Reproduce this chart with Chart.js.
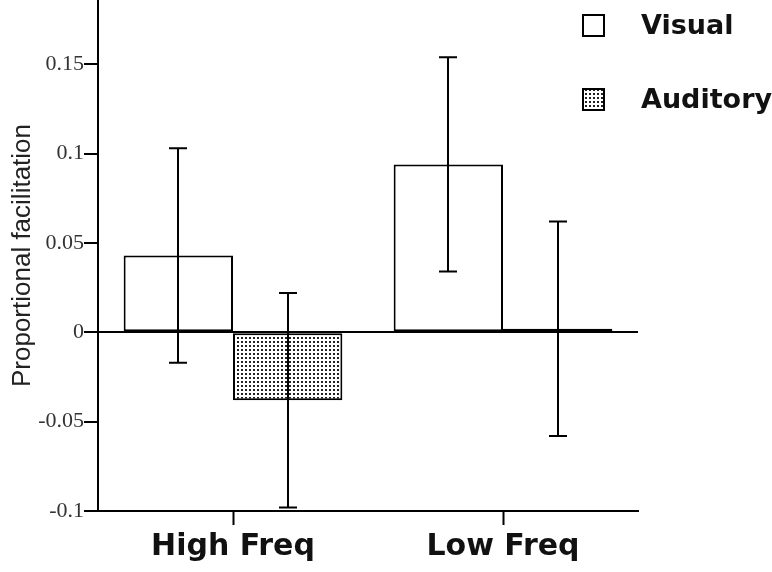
<!DOCTYPE html>
<html lang="en">
<head>
<meta charset="UTF-8">
<title>Proportional facilitation</title>
<script src="https://cdn.jsdelivr.net/npm/chart.js@4"></script>
<style>
    body {
        margin: 0;
        background: #fff;
    }
    .wrap {
        width: 772px;
        height: 572px;
        position: relative;
    }
</style>
</head>
<body>
<div class="wrap"><canvas id="chart"></canvas></div>
<script>
    // values
    var categories = ['High Freq', 'Low Freq'];
    var seriesNames = ['Visual', 'Auditory'];
    var visualValues = [0.043, 0.094];
    var auditoryValues = [-0.038, 0.002];
    var visualErrors = [0.06, 0.06];
    var auditoryErrors = [0.06, 0.06];
    var yTicks = [-0.1, -0.05, 0, 0.05, 0.1, 0.15];
    var yMin = -0.1;
    var yMax = 0.186;

    // dotted fill for the auditory bars
    function dotPattern() {
        var c = document.createElement('canvas');
        c.width = 4;
        c.height = 4;
        var g = c.getContext('2d');
        g.fillStyle = '#fff';
        g.fillRect(0, 0, 4, 4);
        g.fillStyle = '#222';
        g.fillRect(1, 1, 2, 2);
        return g.createPattern(c, 'repeat');
    }
    var dots = dotPattern();

    var errorBars = {
        id: 'errorBars',
        afterDatasetsDraw: function(chart) {
            var ctx = chart.ctx;
            var y = chart.scales.y;
            ctx.save();
            ctx.strokeStyle = '#000';
            ctx.lineWidth = 2;
            chart.data.datasets.forEach(function(ds, i) {
                chart.getDatasetMeta(i).data.forEach(function(bar, j) {
                    var hi = y.getPixelForValue(ds.data[j] + ds.errors[j]);
                    var lo = y.getPixelForValue(ds.data[j] - ds.errors[j]);
                    var x = Math.round(bar.x);
                    ctx.beginPath();
                    ctx.moveTo(x, hi); ctx.lineTo(x, lo);
                    ctx.moveTo(x - 9, hi); ctx.lineTo(x + 9, hi);
                    ctx.moveTo(x - 9, lo); ctx.lineTo(x + 9, lo);
                    ctx.stroke();
                });
            });
            ctx.restore();
        }
    };

    // legend in the top right corner, outside the plot frame
    var cornerLegend = {
        id: 'cornerLegend',
        afterDraw: function(chart) {
            var ctx = chart.ctx;
            ctx.save();
            ctx.font = 'bold 27px "DejaVu Sans"';
            ctx.textBaseline = 'middle';
            chart.data.datasets.forEach(function(ds, i) {
                var top = 15 + i * 74;
                ctx.fillStyle = ds.backgroundColor;
                ctx.fillRect(583, top, 21, 21);
                ctx.strokeStyle = '#000';
                ctx.lineWidth = 2;
                ctx.strokeRect(583, top, 21, 21);
                ctx.fillStyle = '#111';
                ctx.fillText(ds.label, 641, top + 12);
            });
            ctx.restore();
        }
    };

    var ctx = document.getElementById('chart').getContext('2d');
    var myChart = new Chart(ctx, {
        type: 'bar',
        data: {
            labels: categories,
            datasets: [{
                label: seriesNames[0],
                data: visualValues,
                errors: visualErrors,
                backgroundColor: '#fff',
                borderColor: '#000',
                borderWidth: 2,
                borderSkipped: false
            }, {
                label: seriesNames[1],
                data: auditoryValues,
                errors: auditoryErrors,
                backgroundColor: dots,
                borderColor: '#000',
                borderWidth: 2,
                borderSkipped: false
            }]
        },
        options: {
            responsive: true,
            maintainAspectRatio: false,
            animation: false,
            devicePixelRatio: 1,
            layout: { padding: { top: 0, right: 134, bottom: 0, left: 0 } },
            datasets: { bar: { categoryPercentage: 0.81, barPercentage: 1.0 } },
            plugins: {
                legend: { display: false },
                tooltip: { enabled: false }
            },
            scales: {
                x: {
                    offset: true,
                    grid: {
                        drawOnChartArea: false,
                        offset: false,
                        tickLength: 14,
                        tickColor: '#000',
                        tickWidth: 2
                    },
                    border: { color: '#000', width: 2 },
                    ticks: {
                        color: '#111',
                        padding: 4,
                        font: { family: '"DejaVu Sans"', size: 30, weight: 'bold' }
                    },
                    afterFit: function(scale) { scale.height = 61; }
                },
                y: {
                    min: yMin,
                    max: yMax,
                    afterBuildTicks: function(scale) {
                        scale.ticks = yTicks.map(function(v) { return { value: v }; });
                    },
                    grid: {
                        color: function(c) { return c.tick && c.tick.value === 0 ? '#000' : 'rgba(0,0,0,0)'; },
                        lineWidth: 2,
                        tickLength: 14,
                        tickColor: '#000',
                        tickWidth: 2
                    },
                    border: { color: '#000', width: 2 },
                    ticks: {
                        color: '#333',
                        padding: 0,
                        font: { family: '"Liberation Serif"', size: 22 },
                        callback: function(v) { return String(+Number(v).toFixed(2)); }
                    },
                    title: {
                        display: true,
                        text: 'Proportional facilitation',
                        color: '#222',
                        padding: { top: 7, bottom: 0 },
                        font: { family: '"Liberation Sans"', size: 26 }
                    },
                    // the axis runs right up to the top edge, so no room is kept for the labels
                    afterFit: function(scale) {
                        scale.width = 98;
                        scale.paddingTop = 0;
                        scale.paddingBottom = 0;
                    }
                }
            }
        },
        plugins: [errorBars, cornerLegend]
    });
</script>
</body>
</html>
